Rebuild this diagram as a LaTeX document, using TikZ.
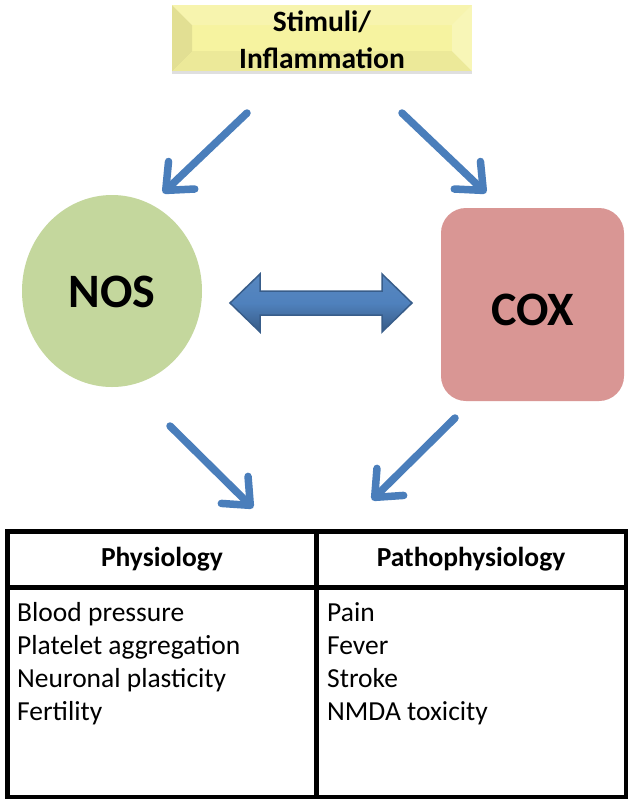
\documentclass[tikz,border=0pt]{standalone}
\usepackage{fontspec}
\setmainfont{Carlito}
\usetikzlibrary{arrows.meta,shadows,shapes.geometric}
\definecolor{arrowblue}{HTML}{4A7EBB}
\definecolor{dblblue}{HTML}{4F81BD}
\definecolor{dblborder}{HTML}{385D8A}
\definecolor{stimfill}{HTML}{F6F3A0}
\definecolor{nosfill}{HTML}{C4D79D}
\definecolor{coxfill}{HTML}{D99694}
\begin{document}
\begin{tikzpicture}[x=1pt,y=-1pt,
  flow/.style={draw=arrowblue, line width=7.5pt, line cap=round,
    -{Straight Barb[length=22pt,width=38pt,round]}},
  stimbox/.style={fill=stimfill, minimum width=300pt, minimum height=66pt, inner sep=0pt,
    drop shadow={shadow xshift=0pt, shadow yshift=-3pt, opacity=0.25}},
  bigtxt/.style={font=\fontsize{48}{52}\selectfont\bfseries, inner sep=0pt},
  headtxt/.style={font=\fontsize{27.5}{32}\selectfont\bfseries, inner sep=0pt},
  bodytxt/.style={font=\fontsize{27.5}{33}\selectfont, inner sep=0pt, anchor=base west},
  tabline/.style={line width=4.5pt, line cap=rect}
]
\useasboundingbox (0,0) rectangle (634,804);
\fill[white] (0,0) rectangle (634,804);

% Stimuli box with bevel
\node[stimbox] (stim) at (322,38) {};
\fill[black, opacity=0.08] (172,5) -- (192,25) -- (192,51) -- (172,71) -- cycle;
\fill[black, opacity=0.04] (172,71) -- (192,51) -- (452,51) -- (472,71) -- cycle;
\fill[white, opacity=0.25] (472,5) -- (452,25) -- (452,51) -- (472,71) -- cycle;
\fill[white, opacity=0.15] (172,5) -- (192,25) -- (452,25) -- (472,5) -- cycle;
\node[font=\fontsize{29.5}{37}\selectfont\bfseries, align=center, inner sep=0pt] (stimtxt) at (322,40) {Stimuli/\\Inflammation};

% NOS and COX
\node[ellipse, fill=nosfill, minimum width=180pt, minimum height=192pt, inner sep=0pt] (nos) at (112,291) {};
\node[bigtxt] (nostxt) at (112,292) {NOS};
\node[fill=coxfill, rounded corners=25pt, minimum width=183pt, minimum height=193pt, inner sep=0pt] (cox) at (532.5,304.5) {};
\node[bigtxt] (coxtxt) at (532.5,310) {COX};

% flow arrows
\coordinate (a1s) at (247,113); \coordinate (a1e) at (163,193);
\coordinate (a2s) at (402,113); \coordinate (a2e) at (486,193);
\coordinate (a3s) at (170,426); \coordinate (a3e) at (253,508);
\coordinate (a4s) at (455,418); \coordinate (a4e) at (372,500);
\draw[flow] (a1s) -- (a1e);
\draw[flow] (a2s) -- (a2e);
\draw[flow] (a3s) -- (a3e);
\draw[flow] (a4s) -- (a4e);

% double arrow
\path[draw=dblborder, line width=1.5pt, line join=miter, top color=dblblue!95!white, bottom color=dblblue!70!black, middle color=dblblue]
  (230,303) -- (260,274) -- (260,291) -- (382,291) -- (382,274) -- (412,303)
  -- (382,332) -- (382,315) -- (260,315) -- (260,332) -- cycle;

% table
\coordinate (tl) at (7.5,531.5); \coordinate (br) at (626,797);
\draw[tabline] (tl) rectangle (br);
\draw[tabline] (7.5,587.5) -- (626,587.5);
\draw[tabline] (316.5,531.5) -- (316.5,797);
\node[headtxt] (h1) at (162,559) {Physiology};
\node[headtxt] (h2) at (471,559) {Pathophysiology};
\node[bodytxt] (p1) at (17,621) {Blood pressure};
\node[bodytxt] (p2) at (17,654) {Platelet aggregation};
\node[bodytxt] (p3) at (17,687) {Neuronal plasticity};
\node[bodytxt] (p4) at (17,720) {Fertility};
\node[bodytxt] (q1) at (327,621) {Pain};
\node[bodytxt] (q2) at (327,654) {Fever};
\node[bodytxt] (q3) at (327,687) {Stroke};
\node[bodytxt] (q4) at (327,720) {NMDA toxicity};
\end{tikzpicture}
\end{document}
